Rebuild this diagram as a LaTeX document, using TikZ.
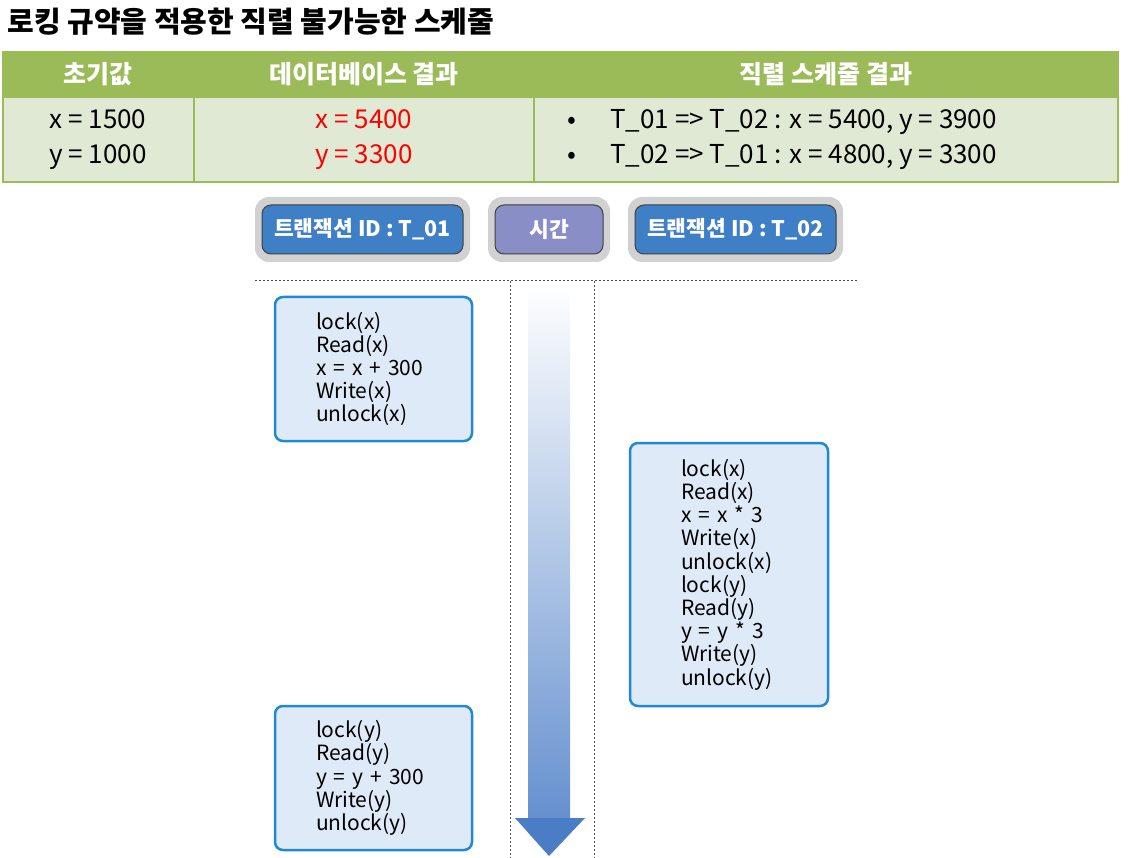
\documentclass[tikz,border=0pt]{standalone}
\usepackage{fontspec}
\setmainfont{Noto Sans CJK KR}
\usetikzlibrary{arrows.meta,positioning}
\definecolor{hdrgreen}{HTML}{9BBB59}
\definecolor{rowgreen}{HTML}{E0E9D4}
\definecolor{txblue}{HTML}{3F7FC5}
\definecolor{timeblue}{HTML}{8A8EC6}
\definecolor{boxline}{HTML}{1F8AD2}
\definecolor{boxfill}{HTML}{DEEAF7}
\definecolor{arrowblue}{HTML}{4A7DC6}
\tikzset{
  hdr/.style={text=white, font=\fontsize{25}{26}\selectfont\bfseries},
  val/.style={font=\fontsize{26}{35}\selectfont},
  tag/.style={draw=black!75, line width=1pt, rounded corners=9pt, minimum height=49pt, text=white, font=\fontsize{21.5}{22}\selectfont\bfseries},
  halo/.style={fill=black!18, rounded corners=14pt},
  opbox/.style={draw=boxline, line width=2.5pt, fill=boxfill, rounded corners=8pt, align=left, inner sep=0pt,
    font=\fontsize{21}{23.2}\selectfont},
}
\begin{document}
\begin{tikzpicture}[x=1pt,y=-1pt]
\useasboundingbox (0,0) rectangle (1134,858);
% title
\node[anchor=west, font=\fontsize{29}{30}\selectfont\bfseries] (title) at (4,22) {로킹 규약을 적용한 직렬 불가능한 스케줄};
% table
\fill[hdrgreen] (3,52) rectangle (1118,97);
\fill[rowgreen] (3,97) rectangle (1118,182);
\draw[hdrgreen, line width=1.5pt] (3,52) rectangle (1118,182) (3,97) -- (1118,97)
  (194,52) -- (194,182) (534,52) -- (534,182);
\node[hdr] (h1) at (98,74) {초기값};
\node[hdr] (h2) at (364,74) {데이터베이스 결과};
\node[hdr] (h3) at (826,74) {직렬 스케줄 결과};
\node[val, align=center] (init) at (98,140) {x = 1500\\y = 1000};
\node[val, align=center, text=red] (db) at (364,140) {x = 5400\\y = 3300};
\node[val, align=left, anchor=west] (serial) at (564,140)
  {•\hspace{34pt}T\_01 => T\_02 : x = 5400, y = 3900\\•\hspace{34pt}T\_02 => T\_01 : x = 4800, y = 3300};
% header tags
\fill[halo] (255,197) rectangle (470,262);
\fill[halo] (488,197) rectangle (610,262);
\fill[halo] (628,197) rectangle (843,262);
\node[tag, fill=txblue, minimum width=201pt] (t1) at (362.5,229.5) {트랜잭션 ID : T\_01};
\node[tag, fill=timeblue, minimum width=108pt] (time) at (549,229.5) {시간};
\node[tag, fill=txblue, minimum width=201pt] (t2) at (735.5,229.5) {트랜잭션 ID : T\_02};
% guide lines
\draw[black!70, dash pattern=on 2pt off 2pt, line width=1pt] (255,281) -- (858,281)
  (510,281) -- (510,858) (594,281) -- (594,858);
% time arrow
\shade[top color=white, bottom color=arrowblue!85] (528,283) rectangle (570,819);
\fill[arrowblue] (515,818) -- (585,818) -- (549,856) -- cycle;
% operations
\node[opbox, minimum width=197pt, minimum height=144pt, text width=115pt] (op1) at (373.5,369)
  {lock(x)\\Read(x)\\x = x + 300\\Write(x)\\unlock(x)};
\node[opbox, minimum width=198pt, minimum height=263pt, text width=96pt] (op2) at (729,574.5)
  {lock(x)\\Read(x)\\x = x * 3\\Write(x)\\unlock(x)\\lock(y)\\Read(y)\\y = y * 3\\Write(y)\\unlock(y)};
\node[opbox, minimum width=197pt, minimum height=144pt, text width=115pt] (op3) at (373.5,778)
  {lock(y)\\Read(y)\\y = y + 300\\Write(y)\\unlock(y)};
\end{tikzpicture}
\end{document}
